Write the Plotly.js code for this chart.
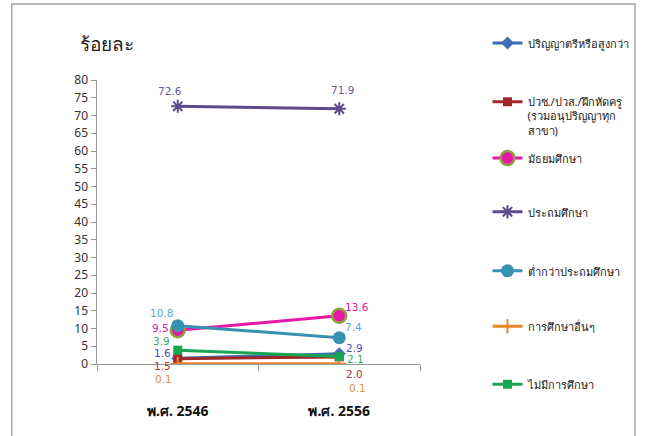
<!DOCTYPE html>
<html>
<head>
<meta charset="utf-8">
<script src="https://cdn.plot.ly/plotly-3.0.1.min.js"></script>
<style>html,body{margin:0;padding:0;background:#fff;}#chart{width:645px;height:436px;}</style>
</head>
<body>
<div id="chart"></div>
<script>
var categories = ['พ.ศ. 2546', 'พ.ศ. 2556'];
var seriesNames = [
  'ปริญญาตรีหรือสูงกว่า',
  'ปวช./ปวส./ฝึกหัดครู<br>(รวมอนุปริญญาทุก<br>สาขา)',
  'มัธยมศึกษา',
  'ประถมศึกษา',
  'ต่ำกว่าประถมศึกษา',
  'การศึกษาอื่นๆ',
  'ไม่มีการศึกษา'
];
var bachelor = [1.6, 2.9];
var vocational = [1.5, 2.0];
var secondary = [9.5, 13.6];
var primary = [72.6, 71.9];
var belowPrimary = [10.8, 7.4];
var otherEdu = [0.1, 0.1];
var noEdu = [3.9, 2.1];
var yTicks = [0, 5, 10, 15, 20, 25, 30, 35, 40, 45, 50, 55, 60, 65, 70, 75, 80];
var yTitle = 'ร้อยละ';

var allValues = [bachelor, vocational, secondary, primary, belowPrimary, otherEdu, noEdu];

var styles = [
  {color:'#3F6DB5', label:'#4B4BC0', marker:{symbol:'diamond', size:10, color:'#3F6DB5'}},
  {color:'#A0282C', label:'#A53A3E', marker:{symbol:'square', size:9, color:'#A0282C'}},
  {color:'#E619A6', label:'#E020A0', marker:{symbol:'circle', size:14, color:'#E619A6', line:{color:'#8FA040', width:2.5}}},
  {color:'#5E4A8E', label:'#6A5A9C', marker:{symbol:'asterisk-open', size:11, color:'#5E4A8E', line:{color:'#5E4A8E', width:2}}},
  {color:'#3791B0', label:'#5AA6D2', marker:{symbol:'circle', size:13, color:'#3791B0'}},
  {color:'#E8862A', label:'#E0913E', marker:{symbol:'cross-thin-open', size:10, color:'#E8862A', line:{color:'#E8862A', width:2}}},
  {color:'#1AA550', label:'#3BAA5C', marker:{symbol:'square', size:9, color:'#1AA550'}}
];

// label shifts [x, y] per series per category
var shifts = [
  [[-15, 5], [15, 6]],
  [[-15, -7], [15, -17]],
  [[-17, 2], [18, 9]],
  [[-8, 15], [3, 19]],
  [[-16, 13], [14, 11]],
  [[-14, -15], [18, -24]],
  [[-16, 9], [16, -2]]
];

var legendY = [1.127, 0.873, 0.722, 0.533, 0.325, 0.130, -0.074];
var legendKeys = ['legend', 'legend2', 'legend3', 'legend4', 'legend5', 'legend6', 'legend7'];

var traces = [];
var annotations = [];
allValues.forEach(function (vals, i) {
  traces.push({
    type: 'scatter',
    mode: 'lines+markers',
    x: categories,
    y: vals,
    name: seriesNames[i],
    legend: legendKeys[i],
    showlegend: true,
    line: {color: styles[i].color, width: 3},
    marker: styles[i].marker,
    hoverinfo: 'skip'
  });
  vals.forEach(function (v, j) {
    annotations.push({
      x: categories[j], y: v, xref: 'x', yref: 'y',
      text: v.toFixed(1), showarrow: false,
      xshift: shifts[i][j][0], yshift: shifts[i][j][1],
      font: {family: 'DejaVu Sans, Verdana, sans-serif', size: 10.5, color: styles[i].label}
    });
  });
});

annotations.push({
  text: yTitle, xref: 'paper', yref: 'paper', x: -0.06, xanchor: 'left',
  y: 1.127, yanchor: 'middle', showarrow: false,
  font: {size: 19, color: '#222', family: 'Noto Sans, DejaVu Sans, sans-serif'}
});

var layout = {
  width: 645, height: 436,
  margin: {l: 97, r: 222, t: 80, b: 72},
  paper_bgcolor: '#ffffff', plot_bgcolor: '#ffffff',
  font: {family: 'Noto Sans, DejaVu Sans, sans-serif', color: '#333'},
  showlegend: true,
  xaxis: {
    type: 'category', range: [-0.5, 1.5],
    tickson: 'boundaries', ticks: 'outside', ticklen: 6, tickcolor: '#999',
    showline: true, linecolor: '#999', linewidth: 1, showgrid: false, zeroline: false,
    ticklabelstandoff: 34,
    tickfont: {size: 14, color: '#111', family: 'Noto Sans, DejaVu Sans, sans-serif', weight: 'bold'}
  },
  yaxis: {
    range: [0, 80], tickmode: 'array', tickvals: yTicks, ticktext: yTicks.map(String),
    ticks: 'outside', ticklen: 5, tickcolor: '#999',
    showline: true, linecolor: '#999', linewidth: 1.5, showgrid: false, zeroline: false,
    tickfont: {size: 12, color: '#333'}
  },
  annotations: annotations,
  shapes: [{
    type: 'rect', xref: 'paper', yref: 'paper', layer: 'below',
    x0: -0.2638, x1: 1.6656, y0: -0.30, y1: 1.2676,
    line: {color: '#A6A6A6', width: 1.5}, fillcolor: 'rgba(0,0,0,0)'
  }]
};

legendKeys.forEach(function (k, i) {
  layout[k] = {
    visible: true,
    x: 1.209, xanchor: 'left', y: legendY[i], yanchor: 'middle',
    valign: 'top', bgcolor: 'rgba(0,0,0,0)', borderwidth: 0,
    font: {size: 11, color: '#222'}
  };
});

Plotly.newPlot('chart', traces, layout, {displayModeBar: false, staticPlot: true});
</script>
</body>
</html>
